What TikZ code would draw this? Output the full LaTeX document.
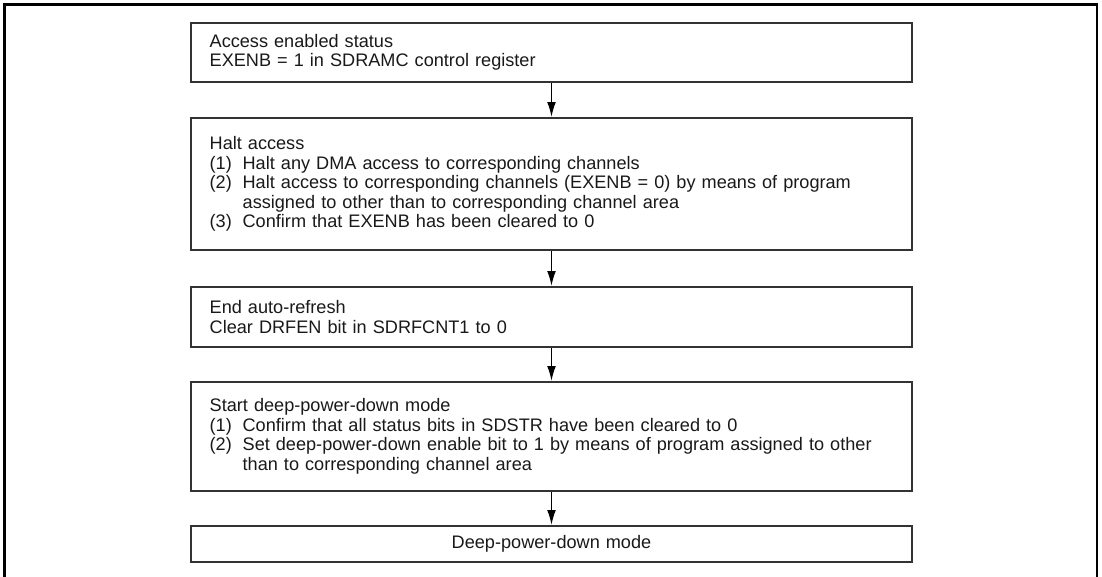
\documentclass[tikz,border=0pt]{standalone}
\usepackage{fontspec}
\setmainfont{Liberation Sans}
\usetikzlibrary{arrows.meta}
\newcommand{\itemno}[1]{\makebox[24.75pt][l]{#1}}
\newcommand{\itemcont}{\hspace*{24.75pt}}

\begin{document}
\begin{tikzpicture}[x=0.75pt, y=-0.75pt, >={Latex[length=11pt,width=6.5pt]}, line width=0.9pt,
  flowbox/.style={draw=black!80, line width=1.8pt, text width=512.75pt,
    inner xsep=14pt, inner ysep=0pt, align=left, text=black!90,
    font=\fontsize{13.6}{14.6}\selectfont}]
  \useasboundingbox (0,0) rectangle (1102,577);

  % --- outer frame, open at the bottom ---
  \draw[line width=2pt] (4.5,577) -- (4.5,4.5) -- (1097,4.5) -- (1097,577);

  % --- the steps ---
  \node[flowbox, minimum height=44.25pt] (access) at (551.5,52.5)
       {Access enabled status\\EXENB = 1 in SDRAMC control register};
  \node[flowbox, minimum height=99pt] (halt) at (551.5,184)
       {Halt access\\
        \itemno{(1)}Halt any DMA access to corresponding channels\\
        \itemno{(2)}Halt access to corresponding channels (EXENB = 0) by means of program\\
        \itemcont assigned to other than to corresponding channel area\\
        \itemno{(3)}Confirm that EXENB has been cleared to 0};
  \node[flowbox, minimum height=45pt] (refresh) at (551.5,317)
       {End auto-refresh\\Clear DRFEN bit in SDRFCNT1 to 0};
  \node[flowbox, minimum height=81.75pt] (start) at (551.5,436.5)
       {Start deep-power-down mode\\
        \itemno{(1)}Confirm that all status bits in SDSTR have been cleared to 0\\
        \itemno{(2)}Set deep-power-down enable bit to 1 by means of program assigned to other\\
        \itemcont than to corresponding channel area};
  \node[flowbox, minimum height=27pt, align=center] (deep) at (551.5,544)
       {Deep-power-down mode};

  % --- connectors ---
  \draw[->] (access) -- (halt);
  \draw[->] (halt) -- (refresh);
  \draw[->] (refresh) -- (start);
  \draw[->] (start) -- (deep);
\end{tikzpicture}
\end{document}
